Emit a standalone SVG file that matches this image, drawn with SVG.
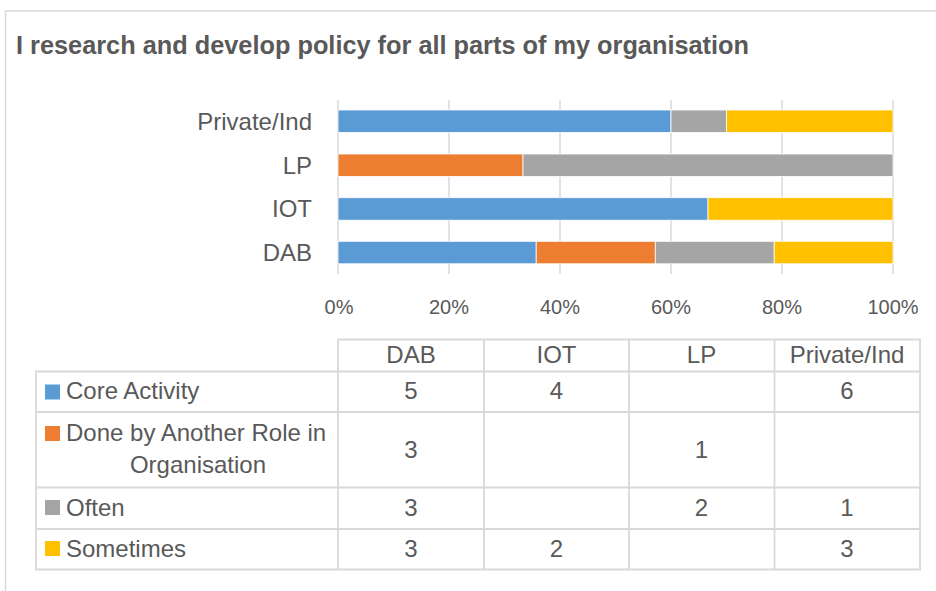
<svg xmlns="http://www.w3.org/2000/svg" width="936" height="591" viewBox="0 0 936 591">
<style>
text{font-family:"Liberation Sans",Arial,sans-serif;fill:#595959}
.t{font-size:24px}
.ax{font-size:20px;text-anchor:middle}
.cat{font-size:24px;text-anchor:end}
.c{font-size:24px;text-anchor:middle}
.grid{stroke:#d9d9d9;stroke-width:1.5}
.tl{stroke:#d9d9d9;stroke-width:1.8;fill:none}
.b{fill:#5b9bd5;stroke:#fff;stroke-width:0.8}
.o{fill:#ed7d31;stroke:#fff;stroke-width:0.8}
.g{fill:#a5a5a5;stroke:#fff;stroke-width:0.8}
.y{fill:#ffc000;stroke:#fff;stroke-width:0.8}
</style>
<rect x="0" y="0" width="936" height="591" fill="#fff"/>
<rect x="5.5" y="11" width="940" height="600" fill="#fff" stroke="#d9d9d9" stroke-width="1.5"/>
<g id="title">
<text x="16" y="54" font-size="25" font-weight="bold" textLength="733" lengthAdjust="spacingAndGlyphs">I research and develop policy for all parts of my organisation</text>
</g>
<g id="chart">
<g id="gridlines">
<line class="grid" x1="338" y1="100" x2="338" y2="274"/>
<line class="grid" x1="449" y1="100" x2="449" y2="274"/>
<line class="grid" x1="560" y1="100" x2="560" y2="274"/>
<line class="grid" x1="671" y1="100" x2="671" y2="274"/>
<line class="grid" x1="782" y1="100" x2="782" y2="274"/>
<line class="grid" x1="893" y1="100" x2="893" y2="274"/>
</g>
<g id="bar-private">
<rect class="b" x="338" y="110" width="333" height="22.5"/>
<rect class="g" x="671" y="110" width="55.5" height="22.5"/>
<rect class="y" x="726.5" y="110" width="166.5" height="22.5"/>
</g>
<g id="bar-lp">
<rect class="o" x="338" y="154" width="185" height="22.5"/>
<rect class="g" x="523" y="154" width="370" height="22.5"/>
</g>
<g id="bar-iot">
<rect class="b" x="338" y="197.7" width="370" height="22.5"/>
<rect class="y" x="708" y="197.7" width="185" height="22.5"/>
</g>
<g id="bar-dab">
<rect class="b" x="338" y="241.3" width="198.2" height="22.5"/>
<rect class="o" x="536.2" y="241.3" width="119.1" height="22.5"/>
<rect class="g" x="655.3" y="241.3" width="118.9" height="22.5"/>
<rect class="y" x="774.2" y="241.3" width="118.8" height="22.5"/>
</g>
<g id="category-labels">
<text class="cat" x="312" y="129.5">Private/Ind</text>
<text class="cat" x="312" y="173.5">LP</text>
<text class="cat" x="312" y="217">IOT</text>
<text class="cat" x="312" y="260.5">DAB</text>
</g>
<g id="axis-labels">
<text class="ax" x="339" y="314">0%</text>
<text class="ax" x="449" y="314">20%</text>
<text class="ax" x="560" y="314">40%</text>
<text class="ax" x="671" y="314">60%</text>
<text class="ax" x="782" y="314">80%</text>
<text class="ax" x="893" y="314">100%</text>
</g>
</g>
<g id="table">
<g id="table-lines">
<path class="tl" d="M338 339.5H920V569.5H36V371.5H920 M36 412H920 M36 487.5H920 M36 529H920 M338 339.5V569.5 M484 339.5V569.5 M629 339.5V569.5 M774.5 339.5V569.5"/>
</g>
<g id="header">
<text class="c" x="411" y="363">DAB</text>
<text class="c" x="556.5" y="363">IOT</text>
<text class="c" x="701.5" y="363">LP</text>
<text class="c" x="847" y="363">Private/Ind</text>
</g>
<g id="row-core">
<rect x="45" y="384.5" width="15" height="15" fill="#5b9bd5"/>
<text class="t" x="66" y="399">Core Activity</text>
<text class="c" x="411" y="399">5</text>
<text class="c" x="556.5" y="399">4</text>
<text class="c" x="847" y="399">6</text>
</g>
<g id="row-done">
<rect x="45" y="426" width="15" height="15" fill="#ed7d31"/>
<text class="t" x="66" y="440.5">Done by Another Role in</text>
<text class="c" x="198" y="473">Organisation</text>
<text class="c" x="411" y="458">3</text>
<text class="c" x="701.5" y="458">1</text>
</g>
<g id="row-often">
<rect x="45" y="500" width="15" height="15" fill="#a5a5a5"/>
<text class="t" x="66" y="515.5">Often</text>
<text class="c" x="411" y="515.5">3</text>
<text class="c" x="701.5" y="515.5">2</text>
<text class="c" x="847" y="515.5">1</text>
</g>
<g id="row-sometimes">
<rect x="45" y="541" width="15" height="15" fill="#ffc000"/>
<text class="t" x="66" y="556.5">Sometimes</text>
<text class="c" x="411" y="556.5">3</text>
<text class="c" x="556.5" y="556.5">2</text>
<text class="c" x="847" y="556.5">3</text>
</g>
</g>
</svg>
